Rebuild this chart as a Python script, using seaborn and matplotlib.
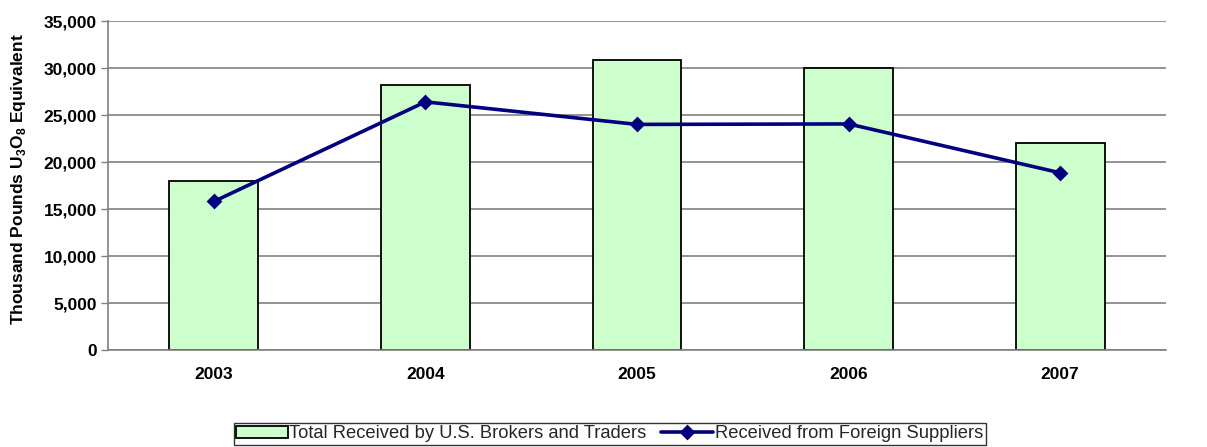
import seaborn as sns
import pandas as pd
import matplotlib.pyplot as plt
from matplotlib.ticker import FuncFormatter, FixedLocator

# Data
years = ['2003', '2004', '2005', '2006', '2007']
total_received = [18000, 28200, 30900, 30000, 22000]
foreign_suppliers = [15800, 26400, 24000, 24050, 18850]

df = pd.DataFrame({'Year': years, 'Total': total_received, 'Foreign': foreign_suppliers})

sns.set_style('white')
plt.rcParams['font.family'] = ['Liberation Sans', 'DejaVu Sans']
plt.rcParams['mathtext.fontset'] = 'custom'
plt.rcParams['mathtext.rm'] = 'Liberation Sans:bold'
plt.rcParams['mathtext.bf'] = 'Liberation Sans:bold'

fig = plt.figure(figsize=(12.07, 4.47), dpi=100)
ax = fig.add_axes([0.0895, 0.217, 0.8765, 0.736])

sns.barplot(data=df, x='Year', y='Total', color='#CCFFCC', saturation=1,
            edgecolor='black', linewidth=1.3, width=0.42, ax=ax, zorder=2,
            label='Total Received by U.S. Brokers and Traders')
sns.pointplot(data=df, x='Year', y='Foreign', color='#000080', markers='D',
              markersize=6.5, linewidth=2.6, ax=ax,
              label='Received from Foreign Suppliers')
for c in ax.collections + ax.lines:
    c.set_zorder(4)

ax.set_ylim(0, 35000)
ax.set_xlim(-0.5, 4.5)
ax.set_yticks(range(0, 35001, 5000))
ax.yaxis.set_major_formatter(FuncFormatter(lambda v, p: f'{int(v):,}'))
ax.grid(axis='y', color='#808080', linewidth=1.2, zorder=0)
ax.set_axisbelow(True)

# category boundary ticks on x
ax.xaxis.set_minor_locator(FixedLocator([0.5, 1.5, 2.5, 3.5]))
ax.tick_params(axis='x', which='major', length=0, pad=12)
ax.tick_params(axis='x', which='minor', length=5, width=1, color='#808080', direction='out')
ax.tick_params(axis='y', length=5, width=1, color='#808080', direction='out', left=True, pad=3)
ax.tick_params(axis='both', labelsize=12.5, labelcolor='black')
for lab in ax.get_xticklabels() + ax.get_yticklabels():
    lab.set_fontweight('bold')

for side in ['top', 'right']:
    ax.spines[side].set_visible(False)
ax.spines['left'].set_color('#808080')
ax.spines['bottom'].set_color('#808080')
ax.spines['left'].set_linewidth(1.2)
ax.spines['bottom'].set_linewidth(1.2)

ax.set_xlabel('')
ax.set_ylabel(r'Thousand Pounds U$_{3}$O$_{8}$ Equivalent', fontsize=12.5,
              fontweight='bold', color='black')
ax.yaxis.set_label_coords(-0.076, 0.52)

handles, labels = ax.get_legend_handles_labels()
order = [labels.index('Total Received by U.S. Brokers and Traders'),
         labels.index('Received from Foreign Suppliers')]
if ax.legend_:
    ax.legend_.remove()
leg = fig.legend([handles[i] for i in order], [labels[i] for i in order],
                 loc='lower center', bbox_to_anchor=(0.505, 0.0),
                 ncol=2, frameon=True, fancybox=False, edgecolor='black',
                 fontsize=13.2, handlelength=2.8, handletextpad=0.1, columnspacing=0.8,
                 borderpad=0.15, borderaxespad=0.1)
leg.get_frame().set_linewidth(1.0)

fig.savefig('out.png', dpi=100)
